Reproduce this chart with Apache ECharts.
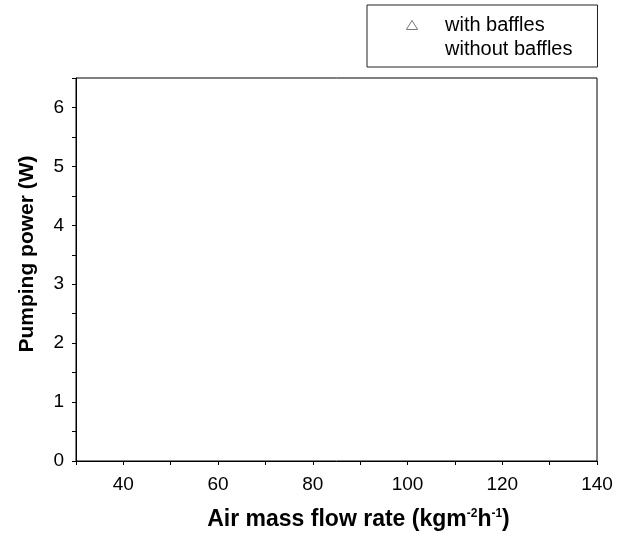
<!DOCTYPE html>
<html>
<head>
<meta charset="utf-8">
<script src="https://cdn.jsdelivr.net/npm/echarts@6/dist/echarts.min.js"></script>
<style>
  html, body { margin: 0; padding: 0; background: #fff; }
  #chart { width: 618px; height: 540px; }
</style>
</head>
<body>
<div id="chart"></div>
<script>
// No data marks are visible in the plot, only the legend entries
var seriesNames = ["with baffles", "without baffles"];
var withBaffles = [];
var withoutBaffles = [];

var xMin = 30, xMax = 140, xStep = 10;
var yMin = 0, yMax = 6.5, yStep = 0.5;

var font = "Arial, 'Liberation Sans', sans-serif";
var triangleIcon = "path://M5,0 L10,8 L0,8 Z";

var chart = echarts.init(document.getElementById("chart"));

var option = {
  backgroundColor: "#fff",
  animation: false,
  grid: {
    left: 76,
    right: 21,
    top: 78,
    bottom: 79,
    show: true,
    borderColor: "#000",
    borderWidth: 1
  },
  legend: {
    left: 367,
    top: 5,
    orient: "vertical",
    selectedMode: false,
    padding: [10, 25, 8, 17],
    itemWidth: 56,
    itemHeight: 9,
    itemGap: 4,
    symbolKeepAspect: true,
    borderColor: "#222",
    borderWidth: 1,
    textStyle: { color: "#000", fontFamily: font, fontSize: 20 },
    data: [
      {
        name: seriesNames[0],
        icon: triangleIcon,
        itemStyle: { color: "#fff", borderColor: "#555", borderWidth: 1 }
      },
      {
        name: seriesNames[1],
        icon: "rect",
        itemStyle: { color: "rgba(0,0,0,0)", borderColor: "rgba(0,0,0,0)", borderWidth: 0 }
      }
    ]
  },
  xAxis: {
    type: "value",
    min: xMin,
    max: xMax,
    interval: xStep,
    name: "Air mass flow rate (kgm{sup|-2}h{sup|-1})",
    nameLocation: "middle",
    nameGap: 47,
    nameTextStyle: {
      color: "#000",
      fontFamily: font,
      fontSize: 23,
      fontWeight: "bold",
      padding: [0, 0, 0, 44],
      rich: {
        sup: {
          fontFamily: font,
          fontSize: 12,
          fontWeight: "bold",
          color: "#000",
          verticalAlign: "top",
          padding: [0, 0, 10, 0]
        }
      }
    },
    axisLine: { show: true, lineStyle: { color: "#000", width: 1 } },
    axisTick: { show: true, length: 4, lineStyle: { color: "#000" } },
    splitLine: { show: false },
    axisLabel: {
      color: "#000",
      fontFamily: font,
      fontSize: 19,
      margin: 14,
      formatter: function (v) { return v % 20 === 0 ? String(v) : ""; }
    }
  },
  yAxis: {
    type: "value",
    min: yMin,
    max: yMax,
    interval: yStep,
    name: "Pumping power (W)",
    nameLocation: "middle",
    nameGap: 38,
    nameTextStyle: {
      color: "#000",
      fontFamily: font,
      fontSize: 21,
      fontWeight: "bold",
      padding: [0, 0, 0, 31]
    },
    axisLine: { show: true, lineStyle: { color: "#000", width: 1 } },
    axisTick: { show: true, length: 4, lineStyle: { color: "#000" } },
    splitLine: { show: false },
    axisLabel: {
      color: "#000",
      fontFamily: font,
      fontSize: 19,
      margin: 12,
      formatter: function (v) { return Number.isInteger(v) ? String(v) : ""; }
    }
  },
  series: [
    {
      name: seriesNames[0],
      type: "scatter",
      symbol: triangleIcon,
      symbolSize: 9,
      itemStyle: { color: "#fff", borderColor: "#555", borderWidth: 1 },
      data: withBaffles
    },
    {
      name: seriesNames[1],
      type: "scatter",
      symbolSize: 9,
      itemStyle: { color: "#000" },
      data: withoutBaffles
    }
  ]
};

chart.setOption(option);
</script>
</body>
</html>
